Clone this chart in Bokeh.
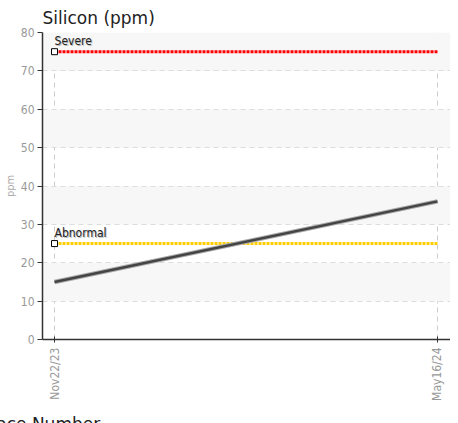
from bokeh.plotting import figure
from bokeh.models import Range1d, FixedTicker
from bokeh.core.properties import value
from bokeh.embed import file_html
from bokeh.resources import INLINE

# data
dates = ["Nov22/23", "May16/24"]
silicon = [15, 36]
limit_names = ["Severe", "Abnormal"]
limit_values = [75, 25]
limit_colors = ["#ff0000", "#ffcc00"]
y_ticks = [0, 10, 20, 30, 40, 50, 60, 70, 80]

idx = list(range(len(dates)))
NARROW = "DejaVu Sans Condensed"

p = figure(width=450, height=436, output_backend="svg", toolbar_location=None,
           x_range=Range1d(-0.0314, 1.034), y_range=Range1d(0, 80),
           min_border_left=4, min_border_right=0, min_border_top=4, min_border_bottom=4)
p.outline_line_color = None

p.title.text = "Silicon (ppm)"
p.title.text_font = "DejaVu Sans"
p.title.text_font_size = "17px"
p.title.text_font_style = "normal"
p.title.text_color = "#222222"
p.title.standoff = 10

# grids
p.ygrid.ticker = FixedTicker(ticks=y_ticks)
p.ygrid.grid_line_color = "#dddddd"
p.ygrid.grid_line_dash = "5 4"
p.ygrid.band_fill_color = "#f7f7f7"
p.ygrid.band_fill_alpha = 1
p.xgrid.ticker = FixedTicker(ticks=idx)
p.xgrid.grid_line_color = "#cccccc"
p.xgrid.grid_line_dash = "5 4"

# axes
p.yaxis.ticker = FixedTicker(ticks=y_ticks)
p.yaxis.axis_label = "ppm"
p.yaxis.axis_label_text_font = NARROW
p.yaxis.axis_label_text_font_size = "11px"
p.yaxis.axis_label_text_font_style = "normal"
p.yaxis.axis_label_text_color = "#aaaaaa"
p.yaxis.axis_label_standoff = 1
p.yaxis.major_label_text_font = NARROW
p.yaxis.major_label_text_font_size = "12px"
p.yaxis.major_label_text_color = "#999999"
p.yaxis.major_label_standoff = 3
p.yaxis.axis_line_color = "#333333"
p.yaxis.axis_line_width = 1.5
p.yaxis.major_tick_line_color = "#333333"
p.yaxis.major_tick_out = 5
p.yaxis.major_tick_in = 0
p.yaxis.minor_tick_line_color = None

p.xaxis.ticker = FixedTicker(ticks=idx)
p.xaxis.major_label_overrides = {i: d for i, d in zip(idx, dates)}
p.xaxis.major_label_orientation = 1.5708
p.xaxis.major_label_text_font = NARROW
p.xaxis.major_label_text_font_size = "12px"
p.xaxis.major_label_text_color = "#999999"
p.xaxis.major_label_standoff = 5
p.xaxis.axis_label = "Race Number"
p.xaxis.axis_label_text_font = "DejaVu Sans"
p.xaxis.axis_label_text_font_size = "17px"
p.xaxis.axis_label_text_font_style = "normal"
p.xaxis.axis_label_text_color = "#222222"
p.xaxis.axis_label_standoff = 10
p.xaxis.axis_label_align = "start"
p.xaxis.axis_label_text_align = "left"
p.xaxis.axis_line_color = "#333333"
p.xaxis.axis_line_width = 1.5
p.xaxis.major_tick_line_color = "#333333"
p.xaxis.major_tick_out = 3
p.xaxis.major_tick_in = 3
p.xaxis.minor_tick_line_color = None

# limit lines
for name, v, c in zip(limit_names, limit_values, limit_colors):
    p.line([idx[0], idx[-1]], [v, v], line_color=c, line_width=3, line_dash="3 1")
    p.scatter([idx[0]], [v], marker="square", size=6, fill_color="white",
              line_color="black", line_width=1)
    p.text([idx[0]], [v], text=[name], text_font=value(NARROW), text_font_size="12px",
           text_color="#bbbbbb", text_baseline="bottom", x_offset=1, y_offset=-3)
    p.text([idx[0]], [v], text=[name], text_font=value(NARROW), text_font_size="12px",
           text_color="#222222", text_baseline="bottom", x_offset=0, y_offset=-4)

# data line
p.line(idx, silicon, line_color="#aaaaaa", line_width=4.5)
p.line(idx, silicon, line_color="#444444", line_width=2.5)

open("out.html", "w").write(file_html(p, INLINE))
